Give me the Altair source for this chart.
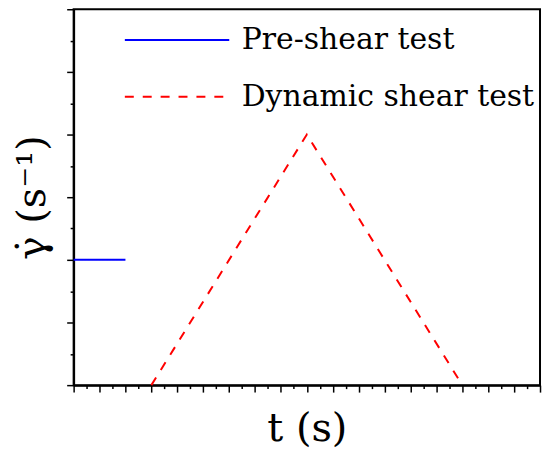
import altair as alt
import pandas as pd

series_names = ["Pre-shear test", "Dynamic shear test"]
pre_t = [0, 2]
pre_rate = [2, 2]
dyn_t = [3, 9, 15]
dyn_rate = [0, 4, 0]

x_ticks = [i * 0.5 for i in range(37)]
y_ticks = [i * 0.5 for i in range(13)]

rows = []
for t, r in zip(pre_t, pre_rate):
    rows.append({"t": t, "rate": r, "series": series_names[0]})
for t, r in zip(dyn_t, dyn_rate):
    rows.append({"t": t, "rate": r, "series": series_names[1]})
df = pd.DataFrame(rows)

FONT = "DejaVu Serif"
tick_cond = {"condition": {"test": "datum.value % 1 === 0", "value": 7}, "value": 3.5}

legend_kw = dict(title=None, orient="none", legendX=82, legendY=9,
                 symbolType="M-2.5,0H2.5", symbolSize=1764,
                 symbolStrokeWidth=2, labelFont=FONT,
                 labelFontSize=30, labelColor="black", labelLimit=500,
                 labelOffset=43, rowPadding=20, padding=0)

chart = alt.Chart(df).mark_line(strokeWidth=2).encode(
    x=alt.X("t:Q", scale=alt.Scale(domain=[0, 18], nice=False, zero=False),
            axis=alt.Axis(title="t (s)", values=x_ticks, labels=False, grid=False,
                          tickSize=tick_cond, tickColor="black", tickWidth=1.5,
                          domainColor="black", domainWidth=2,
                          titleFont=FONT, titleFontSize=40, titleFontWeight="normal",
                          titleColor="black", titlePadding=16)),
    y=alt.Y("rate:Q", scale=alt.Scale(domain=[0, 6], nice=False),
            axis=alt.Axis(title="γ̇ (s⁻¹)", values=y_ticks, labels=False, grid=False,
                          tickSize=tick_cond, tickColor="black", tickWidth=1.5,
                          domainColor="black", domainWidth=2,
                          titleFont=FONT, titleFontSize=40, titleFontWeight="normal",
                          titleColor="black", titlePadding=14)),
    color=alt.Color("series:N", scale=alt.Scale(domain=series_names, range=["#0000ff", "#ff0000"]),
                    legend=alt.Legend(**legend_kw)),
    strokeDash=alt.StrokeDash("series:N", scale=alt.Scale(domain=series_names, range=[[1, 0], [9, 9]]),
                              legend=alt.Legend(**legend_kw)),
).properties(
    width=469, height=378,
    autosize=alt.AutoSizeParams(type="none"),
    padding={"left": 66, "top": 0, "right": 2, "bottom": 70},
).configure_view(stroke="black", strokeWidth=2)

chart.save("out.html", embed_options={"renderer": "svg", "actions": False})
